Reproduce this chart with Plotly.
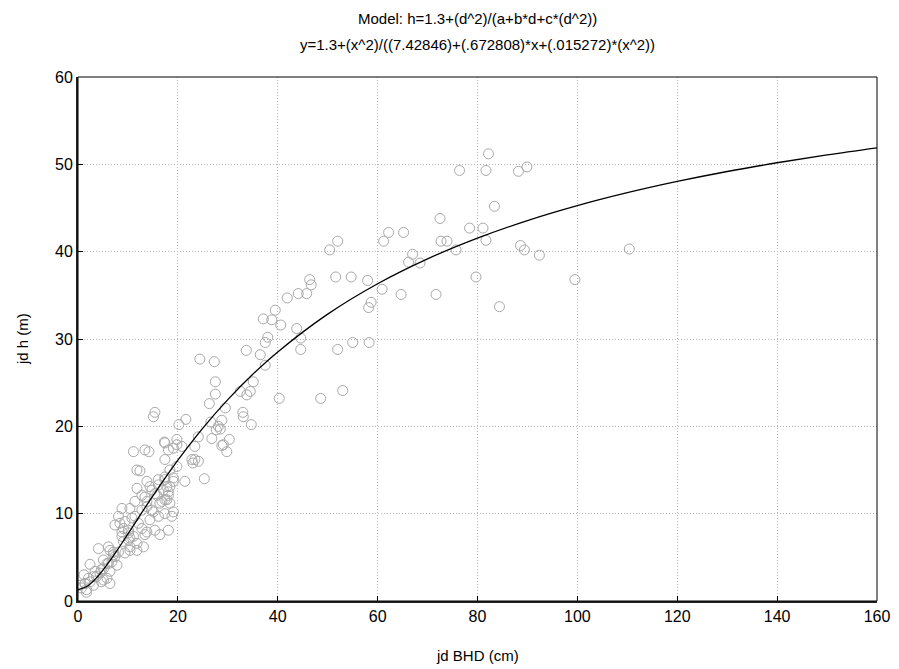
import plotly.graph_objects as go

# Observed data: jd BHD (cm) vs jd h (m)
bhd = [0.4, 0.7, 1.4, 1.7, 2.1, 3.1, 3.1, 3.4, 4.4, 4.7, 5.8, 6.4, 5.1, 5.8, 6.8, 7.8, 7.4, 4.1, 6.1, 7.1,
       8.1, 9.4, 10.4, 9.1, 10.4, 7.4, 8.8, 10.1, 9.4, 10.8, 12.1, 12.8, 13.8, 15.4, 16.4, 18.1, 13.4, 11.4,
       8.1, 8.8, 10.4, 12.8, 14.8, 17.4, 18.8, 19.1, 2.4, 1.2,
       8.4, 9.1, 10.1, 8.8, 10.1, 11.1, 11.8, 10.4, 11.8, 13.1, 7.1, 5.1, 6.1, 4.7, 6.4, 3.7, 5.1, 2.4,
       1.4, 1.7, 6.4, 14.4, 16.1, 15.1, 13.8, 16.4, 17.8, 13.4, 15.4, 17.1, 18.4, 14.4, 16.1, 17.4, 19.1,
       18.4, 19.8,
       11.4, 13.8, 16.8, 18.4, 12.8, 15.8, 18.1, 11.8, 14.8, 13.8, 16.1, 17.4, 11.8, 12.4, 17.4, 11.1, 14.2,
       17.3, 13.4, 17.4, 17.8, 18.1, 19.1, 21.4, 25.3, 22.8, 23.4, 24.1, 23.0, 18.1, 19.1, 19.8, 19.8, 17.4,
       20.8, 23.4, 29.1, 29.8, 28.8, 30.3, 26.8, 24.1, 27.7, 28.5, 28.1, 20.2, 26.6, 28.8, 21.6, 15.1, 15.4,
       29.5, 26.3, 27.5, 27.5, 24.4, 27.3, 32.5, 33.8, 34.5, 35.1, 34.7, 33.0, 33.1,
       33.7, 36.5, 37.5, 37.5, 38.0, 37.1, 38.8, 40.6, 39.5, 41.9, 43.8, 44.6, 44.6, 44.1, 45.8, 46.4, 46.7,
       40.3, 48.6, 53.0, 52.0, 55.0, 58.3, 50.4, 52.0, 51.6, 54.7, 58.0, 58.7, 58.2, 60.9, 64.7, 71.7, 61.2,
       62.2, 65.2, 66.2, 67.0, 68.5, 72.5, 72.7, 73.9, 75.7, 76.4, 78.4, 79.7, 81.1, 81.7, 81.7, 82.2, 83.4,
       84.4, 88.2, 89.9, 88.6, 89.4, 92.4, 99.5, 110.4]
height = [1.8, 1.5, 2.0, 1.0, 2.6, 2.8, 1.8, 3.4, 3.2, 2.2, 2.6, 2.0, 3.7, 4.3, 4.5, 4.1, 5.1, 6.0, 6.2, 5.6,
          5.6, 5.5, 5.8, 6.8, 7.2, 8.7, 7.9, 8.1, 9.1, 9.5, 8.9, 8.3, 7.9, 8.1, 7.6, 8.1, 7.6, 9.7,
          9.7, 10.6, 10.6, 10.4, 10.4, 10.0, 9.7, 10.2, 4.2, 3.0,
          8.9, 8.3, 7.8, 7.4, 7.0, 7.4, 6.6, 6.2, 5.8, 6.2, 5.3, 4.7, 4.3, 3.6, 3.4, 2.8, 2.4, 2.2,
          2.0, 1.3, 5.8, 9.3, 9.7, 10.2, 10.8, 11.2, 11.6, 11.9, 12.3, 12.7, 13.1, 13.1, 13.9, 14.2, 14.1,
          15.0, 15.4,
          11.4, 11.4, 11.4, 11.2, 12.1, 12.1, 12.5, 12.9, 12.7, 13.7, 13.3, 13.9, 15.0, 14.9, 16.2, 17.1, 17.1,
          18.2, 17.3, 11.6, 13.1, 12.1, 13.7, 13.7, 14.0, 16.2, 16.2, 16.0, 15.8, 17.3, 17.5, 17.9, 18.5, 18.1,
          17.7, 17.7, 17.9, 17.1, 17.8, 18.5, 18.6, 18.8, 19.6, 19.7, 20.0, 20.2, 20.5, 20.7, 20.8, 21.1, 21.6,
          22.1, 22.6, 23.7, 25.1, 27.7, 27.4, 24.0, 23.6, 24.0, 25.1, 20.2, 21.6, 21.1,
          28.7, 28.2, 27.0, 29.6, 30.2, 32.3, 32.2, 31.6, 33.3, 34.7, 31.2, 30.1, 28.8, 35.2, 35.2, 36.8, 36.2,
          23.2, 23.2, 24.1, 28.8, 29.6, 29.6, 40.2, 41.2, 37.1, 37.1, 36.7, 34.2, 33.6, 35.7, 35.1, 35.1, 41.2,
          42.2, 42.2, 38.8, 39.7, 38.7, 43.8, 41.2, 41.2, 40.2, 49.3, 42.7, 37.1, 42.7, 41.3, 49.3, 51.2, 45.2,
          33.7, 49.2, 49.7, 40.7, 40.2, 39.6, 36.8, 40.3]

# Fitted model curve values
fit_x = [0, 2, 4, 6, 8, 10, 12, 15, 20, 25, 30, 35, 40, 50, 60, 70, 80, 90, 100, 110, 120, 130, 140, 150, 160]
fit_y = [1.30, 1.75, 2.84, 4.30, 5.94, 7.68, 9.44, 12.04, 16.12, 19.80, 23.06, 25.96, 28.52, 32.85, 36.33,
         39.18, 41.55, 43.56, 45.27, 46.75, 48.04, 49.18, 50.18, 51.08, 51.89]

title1 = "Model: h=1.3+(d^2)/(a+b*d+c*(d^2))"
title2 = "y=1.3+(x^2)/((7.42846)+(.672808)*x+(.015272)*(x^2))"
x_title = "jd BHD (cm)"
y_title = "jd h (m)"

FONT = "Liberation Sans Narrow, Arial Narrow, Liberation Sans, Arial, sans-serif"

fig = go.Figure()
fig.add_trace(go.Scatter(
    x=bhd, y=height, mode="markers",
    marker=dict(symbol="circle-open", size=10, color="#a8a8a8", line=dict(width=1, color="#a8a8a8")),
    showlegend=False, hoverinfo="x+y"))
fig.add_trace(go.Scatter(
    x=fit_x, y=fit_y, mode="lines", line=dict(color="black", width=1.3, shape="spline"),
    showlegend=False))

axis_common = dict(
    showline=True, linecolor="#222222", linewidth=2, mirror=False,
    showgrid=True, gridcolor="#b4b4b4", griddash="1px,2px", gridwidth=1,
    ticks="inside", ticklen=5, tickcolor="black",
    zeroline=False, automargin=False,
    tickfont=dict(family=FONT, size=16, color="black"),
)

# page has an 8px body margin; plot area spans x 78..877, y 77..601 on the page
PLOT_LEFT, PLOT_RIGHT = 78, 877
PLOT_TOP, PLOT_BOTTOM = 77, 601
plot_h = PLOT_BOTTOM - PLOT_TOP
plot_w = PLOT_RIGHT - PLOT_LEFT

fig.update_layout(
    width=891, height=661,
    paper_bgcolor="white", plot_bgcolor="white",
    margin=dict(l=70, r=22, t=69, b=68),
    font=dict(family=FONT, color="black"),
    xaxis=dict(range=[0, 160], dtick=20, tick0=0, **axis_common),
    yaxis=dict(range=[0, 60], dtick=10, tick0=0, **axis_common),
    shapes=[dict(type="rect", xref="paper", yref="paper", x0=0, x1=1, y0=0, y1=1,
                 line=dict(color="black", width=1), layer="above")],
    annotations=[
        dict(text=title1, x=0.5, xref="paper", y=(PLOT_BOTTOM - 18) / plot_h, yref="paper",
             yanchor="middle", showarrow=False, font=dict(family=FONT, size=15)),
        dict(text=title2, x=0.5, xref="paper", y=(PLOT_BOTTOM - 45) / plot_h, yref="paper",
             yanchor="middle", showarrow=False, font=dict(family=FONT, size=15)),
        dict(text=x_title, x=0.5, xref="paper", y=(PLOT_BOTTOM - 655) / plot_h, yref="paper",
             yanchor="middle", showarrow=False, font=dict(family=FONT, size=15)),
        dict(text=y_title, x=(22 - PLOT_LEFT) / plot_w, xref="paper", y=0.5, yref="paper",
             xanchor="center", yanchor="middle", textangle=-90, showarrow=False,
             font=dict(family=FONT, size=15)),
    ],
)

fig.write_html("out.html")
